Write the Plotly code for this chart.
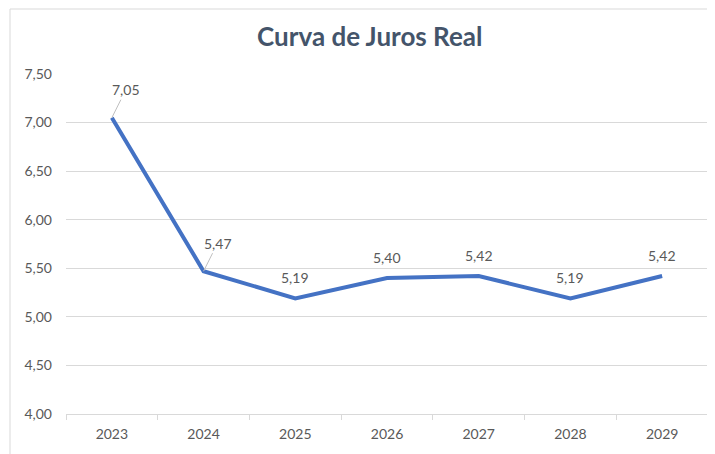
import plotly.graph_objects as go

years = ["2023", "2024", "2025", "2026", "2027", "2028", "2029"]
rates = [7.05, 5.47, 5.19, 5.40, 5.42, 5.19, 5.42]
label_text = ["7,05", "5,47", "5,19", "5,40", "5,42", "5,19", "5,42"]
callout = [True, True, False, False, False, False, False]

LINE = "#4472C4"
GRAY_TXT = "#595959"
GRID = "#D9D9D9"
FONT = "Lato, 'Open Sans', sans-serif"

fig = go.Figure()
fig.add_trace(go.Scatter(
    x=years, y=rates, mode="lines",
    line=dict(color=LINE, width=4), hoverinfo="skip", showlegend=False,
))

annotations = []
for i, (v, t, c) in enumerate(zip(rates, label_text, callout)):
    if c:
        annotations.append(dict(
            x=i, y=v, xref="x", yref="y", text=t, showarrow=True,
            arrowhead=0, arrowwidth=1, arrowcolor="#BFBFBF",
            ax=14, ay=-28, standoff=0,
            font=dict(family=FONT, size=14, color=GRAY_TXT),
        ))
    else:
        annotations.append(dict(
            x=i, y=v, xref="x", yref="y", text=t, showarrow=False,
            yshift=21, font=dict(family=FONT, size=14, color=GRAY_TXT),
        ))

# page body has an 8px offset; margins compensate so the plot area lands at
# x 66..708, y 74..414 in the window
fig.update_layout(
    width=715, height=454,
    margin=dict(l=58, r=15, t=66, b=48),
    paper_bgcolor="white", plot_bgcolor="white",
    separators=",.",
    title=dict(text="<b>Curva de Juros Real</b>", x=0.506, xanchor="center",
               y=1 - 29 / 454, yanchor="middle",
               font=dict(family=FONT, size=26, color="#44546A")),
    xaxis=dict(type="category", range=[-0.5, 6.5], showgrid=False, showline=True,
               linecolor=GRID, linewidth=1, ticks="outside", tickson="boundaries",
               ticklen=5, tickcolor=GRID, ticklabelstandoff=7,
               tickfont=dict(family=FONT, size=14, color=GRAY_TXT),
               fixedrange=True),
    yaxis=dict(range=[4, 7.5], dtick=0.5, tickformat=".2f", showgrid=True,
               gridcolor=GRID, gridwidth=1, zeroline=False, showline=False,
               ticks="", ticklabelstandoff=13,
               tickfont=dict(family=FONT, size=14, color=GRAY_TXT), fixedrange=True),
    annotations=annotations,
    shapes=[dict(type="rect", xref="paper", yref="paper",
                 x0=(10 - 66) / 642, x1=1.2, y0=-0.4, y1=1 + (74 - 9) / 340,
                 line=dict(color=GRID, width=1), fillcolor="rgba(0,0,0,0)",
                 layer="below")],
)

fig.write_html("out.html")
